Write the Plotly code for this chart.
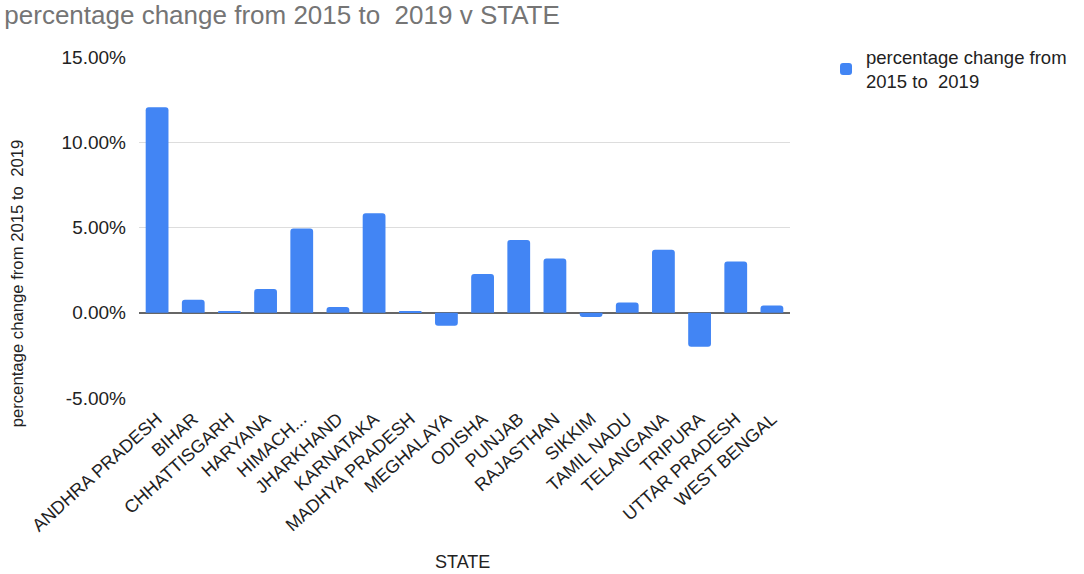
import plotly.graph_objects as go

# State-wise percentage change from 2015 to 2019
states = [
    "ANDHRA PRADESH", "BIHAR", "CHHATTISGARH", "HARYANA", "HIMACH...",
    "JHARKHAND", "KARNATAKA", "MADHYA PRADESH", "MEGHALAYA", "ODISHA",
    "PUNJAB", "RAJASTHAN", "SIKKIM", "TAMIL NADU", "TELANGANA",
    "TRIPURA", "UTTAR PRADESH", "WEST BENGAL",
]
pct_change = [
    12.05, 0.76, 0.10, 1.40, 4.94,
    0.33, 5.84, 0.10, -0.76, 2.28,
    4.27, 3.18, -0.25, 0.60, 3.70,
    -2.00, 3.00, 0.43,
]
y_ticks = [-5, 0, 5, 10, 15]
y_tick_text = ["-5.00%", "0.00%", "5.00%", "10.00%", "15.00%"]

FONT = "Liberation Sans, Arial, sans-serif"
BAR_BLUE = "#4285F4"
TEXT = "#222222"

fig = go.Figure(
    go.Bar(
        x=states,
        y=pct_change,
        name="percentage change from<br>2015 to\u00a0 2019",
        marker=dict(color=BAR_BLUE, line=dict(width=0), cornerradius=3),
        showlegend=True,
    )
)

fig.update_layout(
    width=1084,
    height=574,
    paper_bgcolor="white",
    plot_bgcolor="white",
    margin=dict(l=139, r=294, t=57, b=176),
    bargap=0.37,
    font=dict(family=FONT, color=TEXT),
    title=dict(
        text="percentage change from 2015 to\u00a0 2019 v STATE",
        x=0.004, xanchor="left", y=0.974, yanchor="middle",
        font=dict(size=26, color="#757575", family=FONT),
    ),
    legend=dict(
        xref="container", yref="container",
        x=0.762, xanchor="left", y=0.933, yanchor="top",
        font=dict(size=18.5, color=TEXT, family=FONT),
        bgcolor="rgba(0,0,0,0)",
    ),
    annotations=[
        # y-axis title
        dict(
            text="percentage change from 2015 to\u00a0 2019",
            xref="paper", yref="paper", x=-0.187, y=0.337,
            xanchor="center", yanchor="middle", textangle=-90,
            showarrow=False, font=dict(size=16.7, color=TEXT, family=FONT),
        ),
        # x-axis title
        dict(
            text="STATE",
            xref="paper", yref="paper", x=0.497, y=-0.481,
            xanchor="center", yanchor="middle",
            showarrow=False, font=dict(size=18, color=TEXT, family=FONT),
        ),
    ],
)

fig.update_yaxes(
    range=[-5, 15],
    tickvals=y_ticks,
    ticktext=y_tick_text,
    tickfont=dict(size=19, color=TEXT),
    ticklabelstandoff=12,
    showgrid=True,
    gridcolor="#dddddd",
    gridwidth=1,
    zeroline=True,
    zerolinecolor="#666666",
    zerolinewidth=1.5,
    showline=False,
    ticks="",
)

fig.update_xaxes(
    tickangle=-42,
    tickfont=dict(size=18, color=TEXT),
    ticklabelstandoff=6,
    showgrid=False,
    showline=False,
    ticks="",
    automargin=False,
)

fig.write_html("out.html")
